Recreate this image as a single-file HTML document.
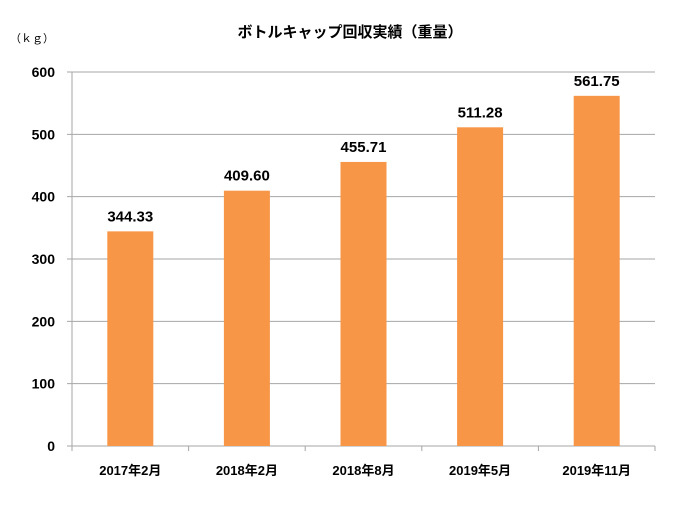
<!DOCTYPE html>
<html><head><meta charset="utf-8"><style>
html,body{margin:0;padding:0;background:#fff;}
svg{display:block;font-family:"Liberation Sans","Noto Sans CJK JP",sans-serif;}
</style></head><body>
<svg id="chart" width="700" height="515">
<text x="350" y="37" text-anchor="middle" font-size="15" font-weight="bold" fill="#000">ボトルキャップ回収実績（重量）</text>
<text x="32" y="42" text-anchor="middle" font-size="11" fill="#000">（ｋｇ）</text>
<g id="grid"></g><g id="bars"></g><g id="labels"></g>
</svg>
<script>
const categories=["2017年2月","2018年2月","2018年8月","2019年5月","2019年11月"];
const values=[344.33,409.60,455.71,511.28,561.75];
const valueLabels=["344.33","409.60","455.71","511.28","561.75"];
const yTicks=[0,100,200,300,400,500,600];
const NS="http://www.w3.org/2000/svg";
const L=72,R=655,T=72,B=446,yMax=600;
const y=v=>B-(v/yMax)*(B-T);
const bw=(R-L)/categories.length;
const xc=i=>L+bw*(i+0.5);
function mk(tag,attrs,parent){const e=document.createElementNS(NS,tag);for(const k in attrs)e.setAttribute(k,attrs[k]);parent.appendChild(e);return e;}
const grid=document.getElementById('grid'),bars=document.getElementById('bars'),labels=document.getElementById('labels');
yTicks.forEach(t=>{
  const ln=mk('line',{x1:67,x2:R,y1:y(t),y2:y(t),stroke:'#a6a6a6','stroke-width':1},grid);
  
  
  const tx=mk('text',{x:55,y:y(t)+5,'text-anchor':'end','font-size':14,'font-weight':'bold'},grid);
  tx.textContent=t;
  
  
});
const ax=mk('line',{x1:L,x2:L,y1:T,y2:B,stroke:'#a6a6a6'},grid);


for(let i=0;i<=categories.length;i++){
  const tk=mk('line',{x1:L+bw*i,x2:L+bw*i,y1:B,y2:B+5,stroke:'#a6a6a6'},grid);
  
  
}
categories.forEach((c,i)=>{
  const w=46;
  const r=mk('rect',{x:xc(i)-w/2,y:y(values[i]),width:w,height:B-y(values[i]),fill:'#f79646'},bars);
  
  
  const vl=mk('text',{x:xc(i),y:y(values[i])-10,'text-anchor':'middle','font-size':15,'font-weight':'bold'},labels);
  vl.textContent=valueLabels[i];
  
  
  const cl=mk('text',{x:xc(i),y:475,'text-anchor':'middle','font-size':13,'font-weight':'bold'},labels);
  cl.textContent=c;
  
  
});
</script>
</body></html>
